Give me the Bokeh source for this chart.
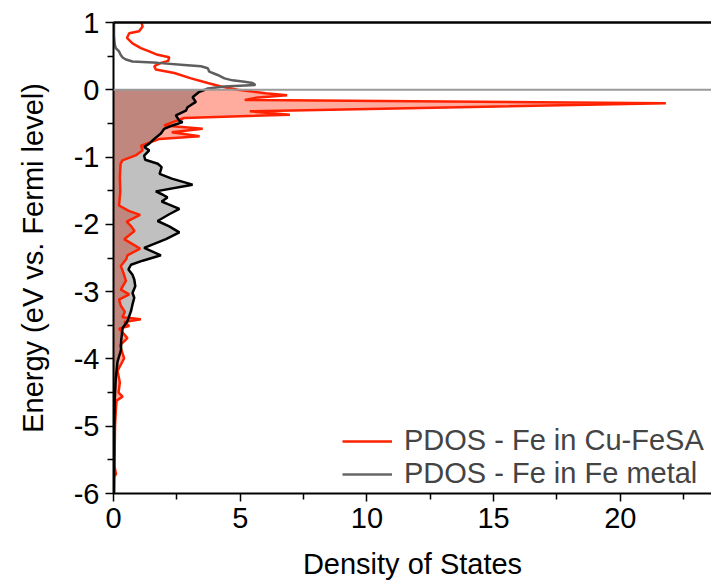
from bokeh.plotting import figure
from bokeh.models import (LinearAxis, FixedTicker, Span, Legend, LegendItem,
                          Range1d)
from bokeh.embed import file_html
from bokeh.resources import INLINE

# PDOS - Fe in Cu-FeSA (energy eV, density of states)
cu_energy = [1.00, 0.94, 0.87, 0.84, 0.77, 0.69, 0.62, 0.57, 0.52, 0.485, 0.43, 0.40,
             0.35, 0.30, 0.25, 0.17, 0.10, 0.05, 0.00, -0.05, -0.08, -0.12, -0.15,
             -0.20, -0.32, -0.37, -0.42, -0.53, -0.58, -0.63, -0.69, -0.73, -0.83,
             -0.90, -0.97, -1.05, -1.10, -1.30, -1.50, -1.72, -1.80, -1.86, -1.96,
             -2.03, -2.10, -2.22, -2.36, -2.46, -2.52, -2.62, -2.73, -2.84, -2.97,
             -3.04, -3.12, -3.21, -3.30, -3.38, -3.41, -3.45, -3.51, -3.55, -3.69,
             -3.80, -3.99, -4.18, -4.35, -4.50, -4.56, -4.62, -4.78, -5.00, -5.30,
             -5.60, -5.71, -5.75, -6.00]
cu_dos = [1.10, 1.15, 1.01, 0.62, 0.53, 0.75, 1.08, 1.41, 1.74, 2.20, 2.16, 1.87,
          1.61, 1.67, 2.40, 3.06, 3.72, 4.24, 4.90, 6.00, 6.85, 5.60, 5.18,
          21.8, 5.38, 6.96, 2.79, 2.00, 3.52, 2.30, 3.40, 1.82, 1.09,
          1.15, 0.90, 0.35, 0.28, 0.25, 0.27, 0.22, 0.60, 1.05, 0.52,
          0.70, 0.83, 0.42, 1.05, 0.55, 0.50, 0.29, 0.40, 0.49, 0.29,
          0.62, 0.22, 0.29, 0.45, 0.35, 1.08, 0.42, 0.62, 0.22, 0.55,
          0.25, 0.42, 0.16, 0.25, 0.20, 0.36, 0.12, 0.09, 0.06, 0.05,
          0.04, 0.10, 0.03, 0.02]

# PDOS - Fe in Fe metal
fe_energy = [1.00, 0.80, 0.67, 0.62, 0.57, 0.52, 0.48, 0.45, 0.42, 0.40, 0.37, 0.35,
             0.32, 0.27, 0.22, 0.17, 0.14, 0.12, 0.10, 0.07, 0.05, 0.02, 0.00,
             -0.03, -0.11, -0.18, -0.26, -0.31, -0.38, -0.46, -0.48, -0.53, -0.58,
             -0.65, -0.73, -0.80, -0.85, -0.90, -0.98, -1.04, -1.10, -1.15, -1.25,
             -1.32, -1.41, -1.51, -1.56, -1.60, -1.66, -1.70, -1.77, -1.85, -1.95,
             -2.03, -2.12, -2.22, -2.35, -2.46, -2.54, -2.60, -2.67, -2.75, -2.82,
             -2.92, -3.02, -3.09, -3.19, -3.29, -3.44, -3.54, -3.74, -3.86, -4.04,
             -4.29, -4.60, -5.00, -6.00]
fe_dos = [0.02, 0.02, 0.05, 0.09, 0.22, 0.28, 0.36, 0.49, 0.75, 1.74, 2.79, 3.45,
          3.72, 3.78, 4.11, 4.38, 4.70, 5.17, 5.49, 5.60, 4.38, 3.72, 3.60,
          3.39, 3.12, 3.25, 2.92, 2.86, 2.46, 2.60, 2.73, 2.33, 2.00,
          1.87, 1.61, 1.41, 1.21, 1.41, 1.21, 1.25, 1.75, 1.90, 1.82,
          2.30, 3.12, 1.67, 1.95, 2.13, 1.90, 2.15, 2.60, 2.20, 1.74,
          2.20, 2.60, 2.07, 1.21, 1.87, 1.15, 0.69, 0.59, 0.75, 0.82,
          0.86, 0.75, 0.82, 0.75, 0.69, 0.55, 0.36, 0.30, 0.30, 0.16,
          0.09, 0.05, 0.03, 0.02]

x_ticks = [0, 5, 10, 15, 20]
x_minor = [2.5, 7.5, 12.5, 17.5, 22.5]
y_ticks = [1, 0, -1, -2, -3, -4, -5, -6]
y_minor = [0.5, -0.5, -1.5, -2.5, -3.5, -4.5, -5.5]
y_tick_labels = ["1", "0", "-1", "-2", "-3", "-4", "-5", "-6"]

FONT = "Liberation Sans"
FS = "29px"

def split(e, d):
    below_e = [v for v in e if v <= 0]
    below_d = [d[i] for i, v in enumerate(e) if v <= 0]
    above_e = [v for v in e if v >= 0]
    above_d = [d[i] for i, v in enumerate(e) if v >= 0]
    return above_e, above_d, below_e, below_d

cu_ae, cu_ad, cu_be, cu_bd = split(cu_energy, cu_dos)
fe_ae, fe_ad, fe_be, fe_bd = split(fe_energy, fe_dos)

p = figure(output_backend="svg", toolbar_location=None,
           frame_width=598, frame_height=471,
           x_range=Range1d(0, 23.6), y_range=Range1d(-6, 1),
           x_axis_location="below", y_axis_location="left")
p.min_border_left = 113
p.min_border_top = 22
p.min_border_right = 0
p.min_border_bottom = 84
p.outline_line_color = None
p.grid.visible = False
p.background_fill_color = "white"

# fills below Fermi level
p.harea(y=cu_be, x1=[0] * len(cu_be), x2=cu_bd, fill_color="#ffab9e", fill_alpha=1.0)
p.harea(y=fe_be, x1=[0] * len(fe_be), x2=fe_bd, fill_color="#404040", fill_alpha=0.33)

p.add_layout(Span(location=0, dimension="width", line_color="#9a9a9a", line_width=2))

r_cu = p.line(cu_dos, cu_energy, line_color="#ff2200", line_width=2.5)
p.line(fe_ad, fe_ae, line_color="#5e5e5e", line_width=2.5)
p.line(fe_bd, fe_be, line_color="black", line_width=2.5)

leg_fe = p.line([0], [0], line_color="#666666", line_width=2.5, visible=False)

for ax in (p.xaxis[0], p.yaxis[0]):
    ax.axis_line_color = "black"
    ax.axis_line_width = 2
    ax.major_tick_line_width = 1.5
    ax.minor_tick_line_width = 1.5
    ax.major_tick_in = 0
    ax.major_tick_out = 8
    ax.minor_tick_in = 0
    ax.minor_tick_out = 6
    ax.major_label_text_font = FONT
    ax.major_label_text_font_size = FS
    ax.major_label_text_color = "black"
    ax.axis_label_text_font = FONT
    ax.axis_label_text_font_size = FS
    ax.axis_label_text_font_style = "normal"
    ax.axis_label_text_color = "black"

p.xaxis[0].ticker = FixedTicker(ticks=x_ticks, minor_ticks=x_minor)
p.yaxis[0].ticker = FixedTicker(ticks=y_ticks, minor_ticks=y_minor)
p.yaxis[0].major_label_overrides = {t: s for t, s in zip(y_ticks, y_tick_labels)}
p.xaxis[0].axis_label = "Density of States"
p.yaxis[0].axis_label = "Energy (eV vs. Fermi level)"
p.xaxis[0].major_label_standoff = 6
p.yaxis[0].major_label_standoff = 6
p.xaxis[0].axis_label_standoff = 17
p.yaxis[0].axis_label_standoff = 22

top = LinearAxis(ticker=FixedTicker(ticks=[]), major_label_text_font_size="0px",
                 axis_line_color="black", axis_line_width=2.5,
                 major_tick_line_color=None, minor_tick_line_color=None)
p.add_layout(top, "above")

legend = Legend(items=[LegendItem(label="PDOS - Fe in Cu-FeSA", renderers=[r_cu]),
                       LegendItem(label="PDOS - Fe in Fe metal", renderers=[leg_fe])],
                location=(229, 3), border_line_color=None, background_fill_alpha=0,
                padding=0, margin=0, spacing=0, glyph_width=50, glyph_height=30,
                label_height=30, label_standoff=12,
                label_text_font=FONT, label_text_font_size=FS)
p.add_layout(legend, "center")

open("out.html", "w").write(file_html(p, INLINE))
